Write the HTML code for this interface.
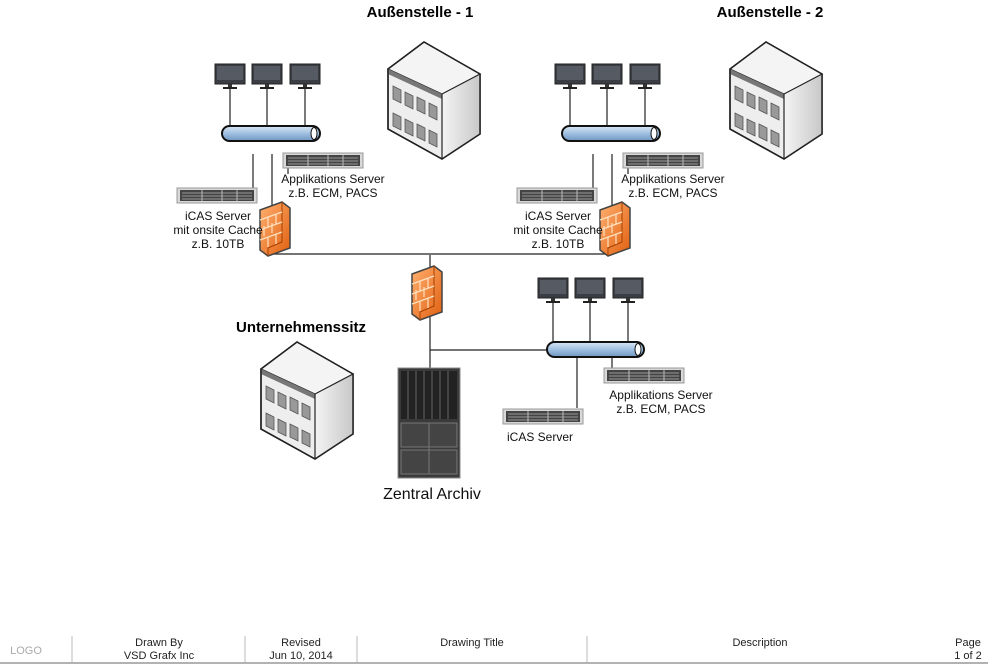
<!DOCTYPE html>
<html><head><meta charset="utf-8"><style>
body{margin:0;background:#fff;width:988px;height:666px;overflow:hidden}
svg{display:block;font-family:"Liberation Sans",sans-serif}
</style></head><body>
<svg width="988" height="666" viewBox="0 0 988 666" xmlns="http://www.w3.org/2000/svg">
<defs>
<linearGradient id="bus" x1="0" y1="0" x2="0" y2="1"><stop offset="0" stop-color="#dbe8f5"/><stop offset="0.5" stop-color="#9fc0e0"/><stop offset="1" stop-color="#6f95c0"/></linearGradient>
<linearGradient id="fw" x1="0" y1="0" x2="1" y2="1"><stop offset="0" stop-color="#ffb070"/><stop offset="1" stop-color="#e06010"/></linearGradient>
<linearGradient id="bR" x1="0" y1="0" x2="1" y2="0"><stop offset="0" stop-color="#f4f4f4"/><stop offset="1" stop-color="#c8c8c8"/></linearGradient>
<g id="mon"><rect x="0" y="0" width="30" height="20" fill="#3a3d44" stroke="#222"/><rect x="2" y="2" width="26" height="14" fill="#565a63"/><rect x="13" y="20" width="4" height="3" fill="#333"/><rect x="8" y="23" width="14" height="2" fill="#222"/></g>
<g id="srv"><rect x="0" y="0" width="80" height="15" fill="#d8d8d8" stroke="#999"/><rect x="3" y="2" width="74" height="11" fill="#444"/><path d="M5 5h70M5 8h70M5 11h70" stroke="#999" stroke-width="1"/><path d="M25 2v11M45 2v11M60 2v11" stroke="#bbb"/></g>
<g id="fwl"><path d="M0 8 L22 0 L30 6 L30 46 L8 54 L0 48 Z" fill="url(#fw)" stroke="#444" stroke-width="1.5"/><path d="M22 0 L22 40 L8 46 L8 54" fill="none" stroke="#a84000" stroke-width="1"/><path d="M0 18L22 10M0 28L22 20M0 38L22 30M8 15v10M16 12v10M4 24v10M12 21v10M8 35v10M16 32v10" stroke="#ffe0c0" stroke-width="1.2" fill="none"/></g>
<g id="bld"><path d="M39 0 L95 32 L95 92 L57 117 L3 87 L3 27 Z" fill="#eee" stroke="#222" stroke-width="1.5"/><path d="M57 52 L95 32 L95 92 L57 117 Z" fill="url(#bR)"/><path d="M39 0 L95 32 L57 52 L3 27 Z" fill="#f4f4f4" stroke="#222" stroke-width="1.2"/><path d="M3 27 L57 52 L57 57 L3 32 Z" fill="#777"/><path d="M57 52 V117" stroke="#222" stroke-width="1.2"/><path d="M39 0 L95 32 L95 92 L57 117 L3 87 L3 27 Z" fill="none" stroke="#222" stroke-width="1.5"/><g fill="#999" stroke="#555" stroke-width="0.8"><path d="M8 44l8 4v13l-8-4zM20 50l8 4v13l-8-4zM32 55l8 4v13l-8-4zM44 61l8 4v13l-8-4zM8 71l8 4v13l-8-4zM20 77l8 4v13l-8-4zM32 82l8 4v13l-8-4zM44 88l8 4v13l-8-4z"/></g></g>
<g id="site"><g stroke="#222" stroke-width="1.2" fill="none"><path d="M60 36V90M97 36V90M135 36V90M83 104V140M102 104V204M118 104V124"/></g>
<use href="#mon" x="45" y="14"/><use href="#mon" x="82" y="14"/><use href="#mon" x="120" y="14"/>
<rect x="52" y="76" width="98" height="15" rx="7.5" fill="url(#bus)" stroke="#111" stroke-width="2"/><ellipse cx="144" cy="83.5" rx="3" ry="6" fill="#fff" stroke="#111"/>
<use href="#srv" x="113" y="103"/><use href="#srv" x="7" y="138"/>
<use href="#fwl" x="90" y="152"/></g>
</defs>
<path d="M272 254H612" stroke="#222" stroke-width="1.2"/>
<use href="#site" x="170" y="50"/>
<use href="#site" x="510" y="50"/>
<use href="#bld" x="385" y="42"/>
<use href="#bld" x="727" y="42"/>
<use href="#bld" x="258" y="342"/>
<g stroke="#222" stroke-width="1.2" fill="none"><path d="M430 255V368M430 350H548M553 300V344M590 300V344M628 300V344M577 357V408M612 357V368"/></g>
<use href="#fwl" x="412" y="266"/>
<use href="#mon" x="538" y="278"/><use href="#mon" x="575" y="278"/><use href="#mon" x="613" y="278"/>
<rect x="547" y="342" width="97" height="15" rx="7.5" fill="url(#bus)" stroke="#111" stroke-width="2"/><ellipse cx="638" cy="349.5" rx="3" ry="6" fill="#fff" stroke="#111"/>
<use href="#srv" x="604" y="368"/><use href="#srv" x="503" y="409"/>
<g><rect x="398" y="368" width="62" height="110" fill="#3a3a3a" stroke="#888"/><rect x="401" y="371" width="56" height="48" fill="#222"/><path d="M408 371v48M416 371v48M424 371v48M432 371v48M440 371v48M448 371v48" stroke="#666"/><rect x="401" y="423" width="56" height="24" fill="#444" stroke="#777"/><rect x="401" y="450" width="56" height="24" fill="#444" stroke="#777"/><path d="M429 423v51" stroke="#777"/></g>
<g font-weight="bold" font-size="15" text-anchor="middle" fill="#000"><text x="420" y="17">Außenstelle - 1</text><text x="770" y="17">Außenstelle - 2</text><text x="301" y="332">Unternehmenssitz</text></g>
<g font-size="12" text-anchor="middle" fill="#111">
<text x="333" y="183">Applikations Server</text><text x="333" y="197">z.B. ECM, PACS</text>
<text x="218" y="220">iCAS Server</text><text x="218" y="234">mit onsite Cache</text><text x="218" y="248">z.B. 10TB</text>
<text x="673" y="183">Applikations Server</text><text x="673" y="197">z.B. ECM, PACS</text>
<text x="558" y="220">iCAS Server</text><text x="558" y="234">mit onsite Cache</text><text x="558" y="248">z.B. 10TB</text>
<text x="661" y="399">Applikations Server</text><text x="661" y="413">z.B. ECM, PACS</text>
<text x="540" y="441">iCAS Server</text>
<text x="432" y="499" font-size="16">Zentral Archiv</text></g>
<g stroke="#bbb"><path d="M72 636V662M245 636V662M357 636V662M587 636V662"/></g>
<path d="M0 663H988" stroke="#999" stroke-width="1.5"/>
<g font-size="11" text-anchor="middle" fill="#222"><text x="26" y="654" fill="#aaa">LOGO</text>
<text x="159" y="646">Drawn By</text><text x="159" y="659">VSD Grafx Inc</text>
<text x="301" y="646">Revised</text><text x="301" y="659">Jun 10, 2014</text>
<text x="472" y="646">Drawing Title</text><text x="760" y="646">Description</text>
<text x="968" y="646">Page</text><text x="968" y="659">1 of 2</text></g>
</svg>
</body></html>
